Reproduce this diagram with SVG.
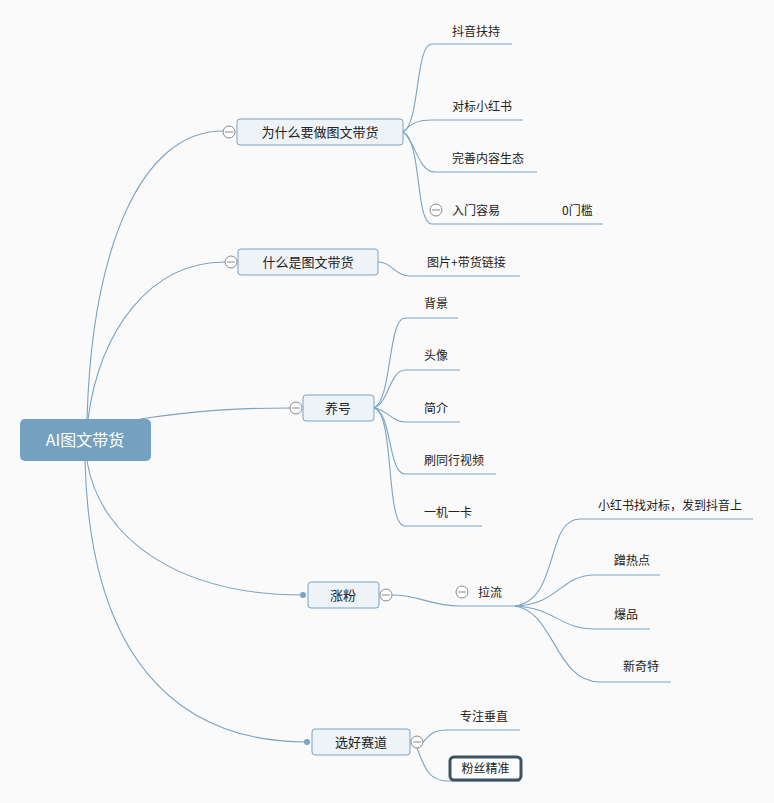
<svg xmlns="http://www.w3.org/2000/svg" width="774" height="803" viewBox="0 0 774 803">
<defs>
<style>
.bg{fill:#fafafa}
.ln{fill:none;stroke:#7aa3c3;stroke-width:1.1}
.n1{fill:#eef3f7;stroke:#7aa3c3;stroke-width:1}
.t1{font-family:"Noto Sans CJK SC","Liberation Sans",sans-serif;font-size:13px;fill:#222;text-anchor:middle;dominant-baseline:central}
.t2{font-family:"Noto Sans CJK SC","Liberation Sans",sans-serif;font-size:12px;fill:#222;dominant-baseline:central}
.rt{font-family:"Noto Sans CJK SC","Liberation Sans",sans-serif;font-size:16px;fill:#fff;text-anchor:middle;dominant-baseline:central}
.cc{fill:#fff;stroke:#888;stroke-width:1}
.cl{stroke:#888;stroke-width:1}
.dot{fill:#7aa3c3}
</style>
</defs>
<rect class="bg" x="0" y="0" width="774" height="803"/>
<g id="connectors">
<path class="ln" d="M87 419 C92 250 140 131 223 131"/>
<path class="ln" d="M88 419 C100 330 150 262 225 262"/>
<path class="ln" d="M140 419 C200 410 240 408 290 408"/>
<path class="ln" d="M87 461 C100 540 180 595 303 595"/>
<path class="ln" d="M85 461 C90 650 170 742 307 742"/>
<path class="ln" d="M403 132 C420 125 415 44 432 44 L512 44"/>
<path class="ln" d="M403 132 C410 125 415 120 432 120 L523 120"/>
<path class="ln" d="M403 132 C415 140 418 172 435 172 L537 172"/>
<path class="ln" d="M403 132 C422 140 415 224 432 224 L603 224"/>
<path class="ln" d="M378 262 C392 262 395 276 410 276 L520 276"/>
<path class="ln" d="M374 408 C392 400 388 318 405 318 L458 318"/>
<path class="ln" d="M374 408 C388 404 390 370 405 370 L460 370"/>
<path class="ln" d="M374 408 C388 410 392 422 405 422 L460 422"/>
<path class="ln" d="M374 408 C392 412 388 474 405 474 L496 474"/>
<path class="ln" d="M374 408 C395 412 385 526 405 526 L482 526"/>
<path class="ln" d="M392 595 C420 595 430 606 460 606 L515 606"/>
<path class="ln" d="M515 606 C560 600 545 519 580 519 L753 519"/>
<path class="ln" d="M515 606 C560 604 560 575 595 575 L660 575"/>
<path class="ln" d="M515 606 C555 608 560 629 595 629 L650 629"/>
<path class="ln" d="M515 606 C555 612 555 682 600 682 L671 682"/>
<path class="ln" d="M423 742 C430 735 432 730 448 730 L520 730"/>
<path class="ln" d="M417 748 C425 770 430 781 448 781 L520 781"/>
</g>
<g id="root">
<rect x="20" y="419" width="131" height="42" rx="5" fill="#73a1bf"/>
<text class="rt" x="85" y="439">AI图文带货</text>
</g>
<g id="n-why">
<rect class="n1" x="237" y="119" width="166" height="26" rx="3"/>
<text class="t1" x="320" y="131">为什么要做图文带货</text>
<circle class="cc" cx="229" cy="132" r="6"/><line class="cl" x1="225" y1="132" x2="233" y2="132"/>
</g>
<g id="n-what">
<rect class="n1" x="238" y="249" width="140" height="26" rx="3"/>
<text class="t1" x="308" y="261">什么是图文带货</text>
<circle class="cc" cx="231" cy="262" r="6"/><line class="cl" x1="227" y1="262" x2="235" y2="262"/>
</g>
<g id="n-yang">
<rect class="n1" x="303" y="395" width="71" height="26" rx="3"/>
<text class="t1" x="338" y="407">养号</text>
<circle class="cc" cx="296" cy="408" r="6"/><line class="cl" x1="292" y1="408" x2="300" y2="408"/>
</g>
<g id="n-zhang">
<rect class="n1" x="308" y="582" width="71" height="26" rx="3"/>
<text class="t1" x="343" y="594">涨粉</text>
<circle class="dot" cx="303" cy="595" r="3"/>
<circle class="cc" cx="386" cy="595" r="6"/><line class="cl" x1="382" y1="595" x2="390" y2="595"/>
</g>
<g id="n-xuan">
<rect class="n1" x="312" y="729" width="98" height="26" rx="3"/>
<text class="t1" x="361" y="741">选好赛道</text>
<circle class="dot" cx="307" cy="742" r="3"/>
<circle class="cc" cx="417" cy="742" r="6"/><line class="cl" x1="413" y1="742" x2="421" y2="742"/>
</g>
<g id="s-douyin"><text class="t2" x="452" y="30">抖音扶持</text></g>
<g id="s-duibiao"><text class="t2" x="452" y="105">对标小红书</text></g>
<g id="s-wanshan"><text class="t2" x="452" y="157">完善内容生态</text></g>
<g id="s-rumen">
<circle class="cc" cx="436" cy="210" r="6"/><line class="cl" x1="432" y1="210" x2="440" y2="210"/>
<text class="t2" x="452" y="209">入门容易</text>
</g>
<g id="s-0menkan"><text class="t2" x="562" y="209">0门槛</text></g>
<g id="s-tupian"><text class="t2" x="427" y="261">图片+带货链接</text></g>
<g id="s-beijing"><text class="t2" x="424" y="302">背景</text></g>
<g id="s-touxiang"><text class="t2" x="424" y="354">头像</text></g>
<g id="s-jianjie"><text class="t2" x="424" y="407">简介</text></g>
<g id="s-shua"><text class="t2" x="424" y="459">刷同行视频</text></g>
<g id="s-yiji"><text class="t2" x="424" y="511">一机一卡</text></g>
<g id="s-laliu">
<circle class="cc" cx="462" cy="592" r="6"/><line class="cl" x1="458" y1="592" x2="466" y2="592"/>
<text class="t2" x="478" y="591">拉流</text>
</g>
<g id="s-xhs"><text class="t2" x="598" y="504">小红书找对标，发到抖音上</text></g>
<g id="s-ceng"><text class="t2" x="614" y="559">蹭热点</text></g>
<g id="s-baopin"><text class="t2" x="614" y="613">爆品</text></g>
<g id="s-xinqi"><text class="t2" x="623" y="665">新奇特</text></g>
<g id="s-zhuanzhu"><text class="t2" x="460" y="715">专注垂直</text></g>
<g id="s-fensi">
<rect x="450" y="757" width="71" height="23" rx="4" fill="#fff" stroke="#3d5263" stroke-width="3"/>
<text class="t1" x="485.5" y="767.5" style="font-size:12px">粉丝精准</text>
</g>
</svg>
